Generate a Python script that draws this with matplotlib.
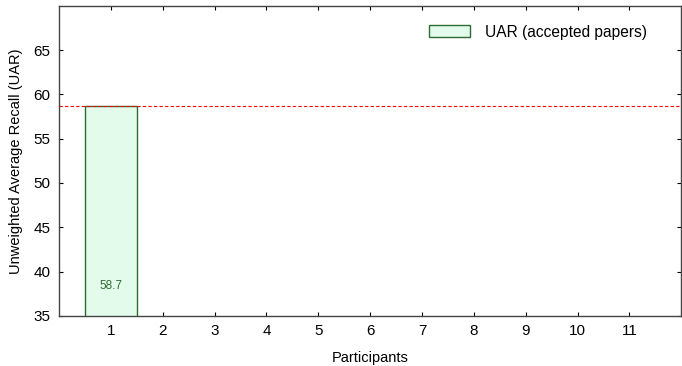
import matplotlib
matplotlib.use('Agg')
import matplotlib.pyplot as plt

plt.rcParams['font.family'] = ['Liberation Sans', 'DejaVu Sans']

participants = [1]
uar = [58.7]
baseline = 58.7
xticks = list(range(1, 12))

fig = plt.figure(figsize=(6.82, 3.66), dpi=100)
ax = fig.add_axes([0.0865, 0.137, 0.9125, 0.847])

ax.bar(participants, uar, width=1.0, bottom=0, color='#e3fbea', edgecolor='#2e6b32',
       linewidth=1.0, label='UAR (accepted papers)', zorder=2)
for x, v in zip(participants, uar):
    ax.text(x, 38.4, '%.1f' % v, ha='center', va='center', fontsize=8.5, color='#2e6b32', zorder=3)

ax.axhline(baseline, color='red', linestyle='--', linewidth=0.8, dashes=(3, 2), zorder=3)

ax.set_xlim(0, 12)
ax.set_ylim(35, 70)
ax.set_xticks(xticks)
ax.set_yticks([35, 40, 45, 50, 55, 60, 65])
ax.tick_params(direction='in', top=True, right=True, labelsize=11, length=3, width=0.8, pad=6)
for s in ax.spines.values():
    s.set_color('#444444')
    s.set_linewidth(1.0)

ax.set_xlabel('Participants', fontsize=10.5, labelpad=9)
ax.set_ylabel('Unweighted Average Recall (UAR)', fontsize=10.5, labelpad=8)

leg = ax.legend(loc='upper right', frameon=False, fontsize=11.2, handlelength=2.6,
                handleheight=0.8, handletextpad=1.0, borderaxespad=0.8,
                bbox_to_anchor=(0.975, 1.0))

fig.savefig('out.png', dpi=100)
